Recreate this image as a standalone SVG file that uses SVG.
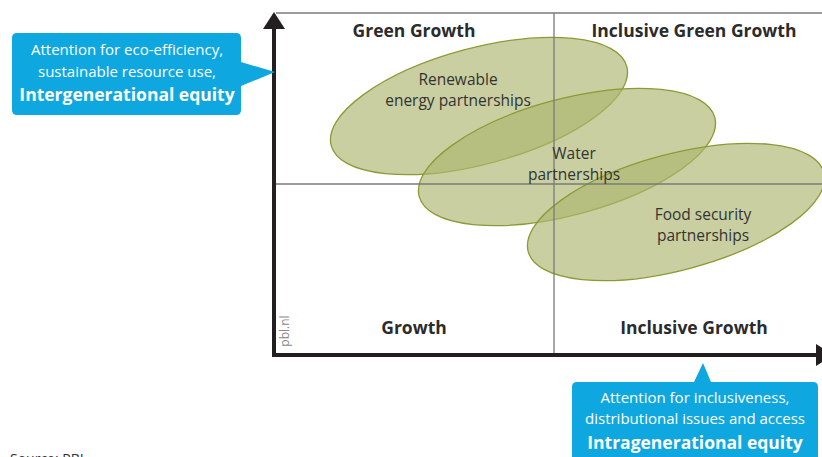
<svg xmlns="http://www.w3.org/2000/svg" width="822" height="457" viewBox="0 0 822 457">
<style>
.q{font-family:"Open Sans","Noto Sans",sans-serif;font-weight:bold;font-size:17.5px;fill:#2b2b2b;text-anchor:middle}
.t{font-family:"Open Sans","Noto Sans",sans-serif;font-size:15.5px;fill:#333;text-anchor:middle}
.w{font-family:"Open Sans","Noto Sans",sans-serif;font-size:15px;fill:#fff;text-anchor:middle}
.wb{font-family:"Open Sans","Noto Sans",sans-serif;font-size:17.5px;font-weight:bold;fill:#fff;text-anchor:middle}
.el{fill:rgb(174,183,113);fill-opacity:0.667;stroke:#8c9a35;stroke-width:1.3}
.grid{stroke:#7a7a7a;stroke-width:1.3;fill:none}
.axis{stroke:#231f20;stroke-width:4;fill:none}
.call{fill:#0fa7e0}
</style>
<rect width="822" height="457" fill="#fff"/>
<g id="partnerships">
<g id="renewable"><ellipse class="el" cx="479" cy="106" rx="153" ry="58" transform="rotate(-15 479 106)"/></g>
<g id="water"><ellipse class="el" cx="567" cy="157" rx="153" ry="58" transform="rotate(-15 567 157)"/></g>
<g id="food"><ellipse class="el" cx="676" cy="212" rx="153" ry="58" transform="rotate(-15 676 212)"/></g>
</g>
<g id="connectors">
<line class="grid" x1="276" y1="13" x2="822" y2="13"/>
<line class="grid" x1="554" y1="13" x2="554" y2="355"/>
<line class="grid" x1="276" y1="184" x2="822" y2="184"/>
<line class="axis" x1="274" y1="27" x2="274" y2="357"/>
<line class="axis" x1="272" y1="355" x2="818" y2="355"/>
<polygon points="274,12 263,29 285,29" fill="#231f20"/>
<polygon points="834,355 816,344 816,366" fill="#231f20"/>
</g>
<g id="quadrant-labels">
<text class="q" x="414" y="37">Green Growth</text>
<text class="q" x="694" y="37">Inclusive Green Growth</text>
<text class="q" x="414" y="334">Growth</text>
<text class="q" x="694" y="334">Inclusive Growth</text>
</g>
<g id="partnership-labels">
<text class="t" x="458" y="85">Renewable</text>
<text class="t" x="458" y="106">energy partnerships</text>
<text class="t" x="574" y="159">Water</text>
<text class="t" x="574" y="180">partnerships</text>
<text class="t" x="703" y="220">Food security</text>
<text class="t" x="703" y="241">partnerships</text>
</g>
<g id="callout-inter">
<path class="call" d="M17,33 H236 Q241,33 241,38 V62 L275,72 L241,86 V110 Q241,115 236,115 H17 Q12,115 12,110 V38 Q12,33 17,33 Z"/>
<text class="w" x="127" y="55">Attention for eco-efficiency,</text>
<text class="w" x="127" y="77">sustainable resource use,</text>
<text class="wb" x="127" y="101">Intergenerational equity</text>
</g>
<g id="callout-intra">
<path class="call" d="M577,382 H694 L703,363 L711,382 H813 Q818,382 818,387 V460 H572 V387 Q572,382 577,382 Z"/>
<text class="w" x="695" y="403">Attention for inclusiveness,</text>
<text class="w" x="695" y="424">distributional issues and access</text>
<text class="wb" x="695" y="449">Intragenerational equity</text>
</g>
<text x="289" y="331" transform="rotate(-90 289 331)" font-family="'Open Sans','Noto Sans',sans-serif" font-size="12" fill="#8a8a8a" text-anchor="middle">pbl.nl</text>
<text x="10" y="464" font-family="'Open Sans','Noto Sans',sans-serif" font-size="14" fill="#333">Source: PBL</text>
</svg>
